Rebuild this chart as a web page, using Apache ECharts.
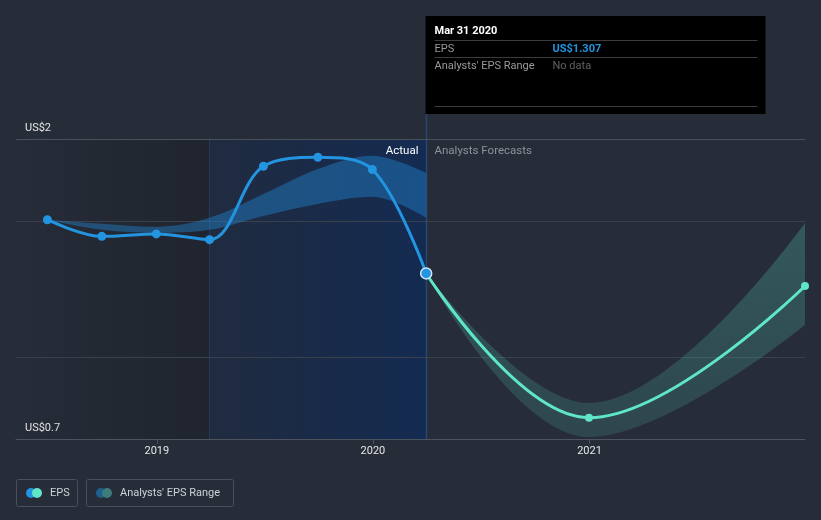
<!DOCTYPE html>
<html><head><meta charset="utf-8">
<script src="https://cdn.jsdelivr.net/npm/echarts@6/dist/echarts.min.js"></script>
<style>html,body{margin:0;padding:0;background:#262c38;}#c{width:821px;height:520px;}</style>
</head><body><div id="c"></div>
<script>
// ---- data ----
const actualDates = ['2018-06-30','2018-09-30','2018-12-31','2019-03-31','2019-06-30','2019-09-30','2019-12-31','2020-03-31'];
const actualEps   = [1.504, 1.443, 1.452, 1.431, 1.700, 1.733, 1.688, 1.307];
const pastRangeLow  = [1.504, 1.467, 1.456, 1.467, 1.518, 1.562, 1.588, 1.511];
const pastRangeHigh = [1.504, 1.489, 1.478, 1.511, 1.598, 1.690, 1.739, 1.676];
const forecastDates = ['2020-03-31','2020-12-31','2021-12-31'];
const forecastEps   = [1.307, 0.778, 1.261];
const forecastLow   = [1.307, 0.707, 1.118];
const forecastHigh  = [1.307, 0.832, 1.492];
const yMin = 0.7, yMax = 1.8;
const yTickLabelMin = 'US$0.7', yTickLabelMax = 'US$2';
const yGridValues = [1.0, 1.5, 1.8];
const xTickYears = [2019, 2020, 2021];
const xRangeStart = '2018-05-08', xRangeEnd = '2021-12-31';
const pastStart = '2019-03-31', nowDate = '2020-03-31';
const tipTitle = 'Mar 31 2020', tipEps = 'US$1.307', tipRange = 'No data';
const legendNames = ['EPS', "Analysts' EPS Range"];

const FONT = 'Roboto, "Noto Sans", sans-serif';
const BLUE = '#2394df', TEAL = '#5fe6c8';
const SMOOTH = 0.35;
const ts = s => echarts.number.parseDate(s).getTime();
const pairs = (d, v) => d.map((x, i) => [x, v[i]]);
const diff = (hi, lo) => hi.map((h, i) => +(h - lo[i]).toFixed(4));

const chart = echarts.init(document.getElementById('c'));
const option = {
  backgroundColor: '#262c38',
  animation: false,
  grid: {left: 16, right: 16, top: 139, bottom: 81},
  xAxis: {
    type: 'time', min: ts(xRangeStart), max: ts(xRangeEnd),
    minInterval: 365 * 86400000,
    splitLine: {show: false},
    axisLine: {lineStyle: {color: '#4e545e', width: 1}},
    axisTick: {show: true, length: 5, lineStyle: {color: '#4e545e'}},
    axisLabel: {
      color: '#e6e6e6', fontSize: 11, fontFamily: FONT, margin: 7,
      formatter: function (v) {
        const d = new Date(v);
        if (d.getMonth() === 0 && d.getDate() === 1 && xTickYears.indexOf(d.getFullYear()) >= 0) return String(d.getFullYear());
        return '';
      }
    }
  },
  yAxis: {
    type: 'value', min: yMin, max: yMax, interval: 0.1,
    splitLine: {show: false}, axisLine: {show: false}, axisTick: {show: false},
    axisLabel: {
      inside: true, margin: 9, color: '#e6e6e6', fontSize: 11, fontFamily: FONT,
      verticalAlign: 'bottom', padding: [0, 0, 5, 0],
      showMinLabel: true, showMaxLabel: true,
      formatter: function (v) {
        if (Math.abs(v - yMin) < 1e-6) return yTickLabelMin;
        if (Math.abs(v - yMax) < 1e-6) return yTickLabelMax;
        return '';
      }
    }
  },
  series: [
    {
      name: 'pastLow', type: 'line', stack: 'past', smooth: SMOOTH,
      data: pairs(actualDates, pastRangeLow), symbol: 'none',
      lineStyle: {opacity: 0}, silent: true, z: 2,
      markArea: {
        silent: true, z: 1,
        data: [
          [{xAxis: ts(xRangeStart), itemStyle: {color: {type: 'linear', x: 0, y: 0, x2: 1, y2: 0,
              colorStops: [{offset: 0, color: 'rgba(0,0,0,0)'}, {offset: 1, color: 'rgba(0,0,0,0.18)'}]}}},
           {xAxis: ts(pastStart)}],
          [{xAxis: ts(pastStart), itemStyle: {color: {type: 'linear', x: 0, y: 0, x2: 1, y2: 0,
              colorStops: [{offset: 0, color: 'rgba(10,40,90,0.22)'}, {offset: 1, color: 'rgba(10,42,95,0.66)'}]}}},
           {xAxis: ts(nowDate)}]
        ]
      },
      markLine: {
        silent: true, symbol: 'none', z: 1, animation: false,
        label: {show: false},
        data: yGridValues.map(v => ({yAxis: v, lineStyle: {color: v === yMax ? '#4a505a' : '#3a404b', width: 1, type: 'solid'}}))
          .concat([{xAxis: ts(pastStart), lineStyle: {color: 'rgba(40,80,140,0.45)', width: 1, type: 'solid'}}])
      }
    },
    {
      name: 'pastBand', type: 'line', stack: 'past', smooth: SMOOTH,
      data: pairs(actualDates, diff(pastRangeHigh, pastRangeLow)), symbol: 'none',
      lineStyle: {opacity: 0}, areaStyle: {color: 'rgba(33,137,214,0.6)'}, silent: true, z: 2
    },
    {
      name: 'fcLow', type: 'line', stack: 'fc', smooth: 0.4,
      data: pairs(forecastDates, forecastLow), symbol: 'none',
      lineStyle: {opacity: 0}, silent: true, z: 2
    },
    {
      name: 'fcBand', type: 'line', stack: 'fc', smooth: 0.4,
      data: pairs(forecastDates, diff(forecastHigh, forecastLow)), symbol: 'none',
      lineStyle: {opacity: 0}, silent: true, z: 2,
      areaStyle: {color: {type: 'linear', x: 0, y: 0, x2: 0, y2: 1,
        colorStops: [{offset: 0, color: 'rgba(94,232,201,0.34)'}, {offset: 1, color: 'rgba(94,232,201,0.2)'}]}}
    },
    {
      name: 'EPS forecast', type: 'line', smooth: 0.4, z: 3,
      data: pairs(forecastDates, forecastEps).map((p, i) => i === 0 ? {value: p, symbol: 'none'} : {value: p}),
      symbol: 'circle', symbolSize: 8, showAllSymbol: true,
      lineStyle: {color: TEAL, width: 3}, itemStyle: {color: TEAL}
    },
    {
      name: 'EPS', type: 'line', smooth: SMOOTH, z: 4,
      data: pairs(actualDates, actualEps).map((p, i, a) => i === a.length - 1
        ? {value: p, symbolSize: 11, itemStyle: {color: BLUE, borderColor: '#cfe6fa', borderWidth: 1.5}}
        : {value: p}),
      symbol: 'circle', symbolSize: 9, showAllSymbol: true,
      lineStyle: {color: BLUE, width: 3}, itemStyle: {color: BLUE}
    }
  ]
};
chart.setOption(option);

// overlays positioned from the chart's own scale
const x0 = Math.round(chart.convertToPixel({xAxisIndex: 0}, ts(nowDate))) + 0.5;
const yBottom = chart.convertToPixel({yAxisIndex: 0}, yMin);
const yTop = chart.convertToPixel({yAxisIndex: 0}, yMax);
const tipX = x0 - 1, tipW = 340, tipY = 16, tipH = 98;
const txt = (x, y, text, fill, opts) => Object.assign({type: 'text', x: x, y: y,
  style: Object.assign({text: text, fill: fill, font: '11px ' + FONT, textVerticalAlign: 'middle', verticalAlign: 'middle'}, opts || {})});
const hline = (y, x1, x2, c) => ({type: 'line', shape: {x1: x1, y1: y, x2: x2, y2: y}, style: {stroke: c, lineWidth: 1}});
const graphics = [
  {type: 'line', shape: {x1: x0, y1: tipY + tipH, x2: x0, y2: yBottom}, style: {stroke: 'rgba(48,95,160,0.55)', lineWidth: 1.5}, z: 1},
  {type: 'rect', shape: {x: tipX, y: tipY, width: tipW, height: tipH}, style: {fill: '#000'}, z: 10},
  Object.assign(txt(tipX + 9, 31.5, tipTitle, '#ffffff', {font: 'bold 11px ' + FONT}), {z: 11}),
  Object.assign(hline(40.5, tipX + 9, tipX + 332, '#3c3c3c'), {z: 11}),
  Object.assign(txt(tipX + 9, 49, legendNames[0], '#9a9a9a'), {z: 11}),
  Object.assign(txt(tipX + 127, 49, tipEps, BLUE, {font: 'bold 11px ' + FONT}), {z: 11}),
  Object.assign(hline(57.5, tipX + 9, tipX + 332, '#3c3c3c'), {z: 11}),
  Object.assign(txt(tipX + 9, 66, legendNames[1], '#9a9a9a'), {z: 11}),
  Object.assign(txt(tipX + 127, 66, tipRange, '#606060'), {z: 11}),
  Object.assign(hline(106.5, tipX + 9, tipX + 332, '#3c3c3c'), {z: 11}),
  Object.assign(txt(x0 - 8, yTop + 12.5, 'Actual', '#ffffff', {align: 'right', textAlign: 'right', font: '11.5px ' + FONT}), {z: 11}),
  Object.assign(txt(x0 + 8, yTop + 12.5, 'Analysts Forecasts', '#8d939c', {font: '11.5px ' + FONT}), {z: 11}),
  // legend
  {type: 'rect', shape: {x: 16.5, y: 479.5, width: 61, height: 27, r: 2}, style: {fill: 'none', stroke: '#4a505b', lineWidth: 1}},
  {type: 'circle', shape: {cx: 31, cy: 493, r: 5}, style: {fill: BLUE}},
  {type: 'circle', shape: {cx: 37, cy: 493, r: 5}, style: {fill: TEAL}},
  txt(50, 493.5, legendNames[0], '#cfd2d6'),
  {type: 'rect', shape: {x: 86.5, y: 479.5, width: 147, height: 27, r: 2}, style: {fill: 'none', stroke: '#4a505b', lineWidth: 1}},
  {type: 'circle', shape: {cx: 101, cy: 493, r: 5}, style: {fill: '#1f5f90'}},
  {type: 'circle', shape: {cx: 107, cy: 493, r: 5}, style: {fill: '#3e7c79'}},
  txt(120, 493.5, legendNames[1], '#cfd2d6')
];
chart.setOption({graphic: graphics});
</script></body></html>
